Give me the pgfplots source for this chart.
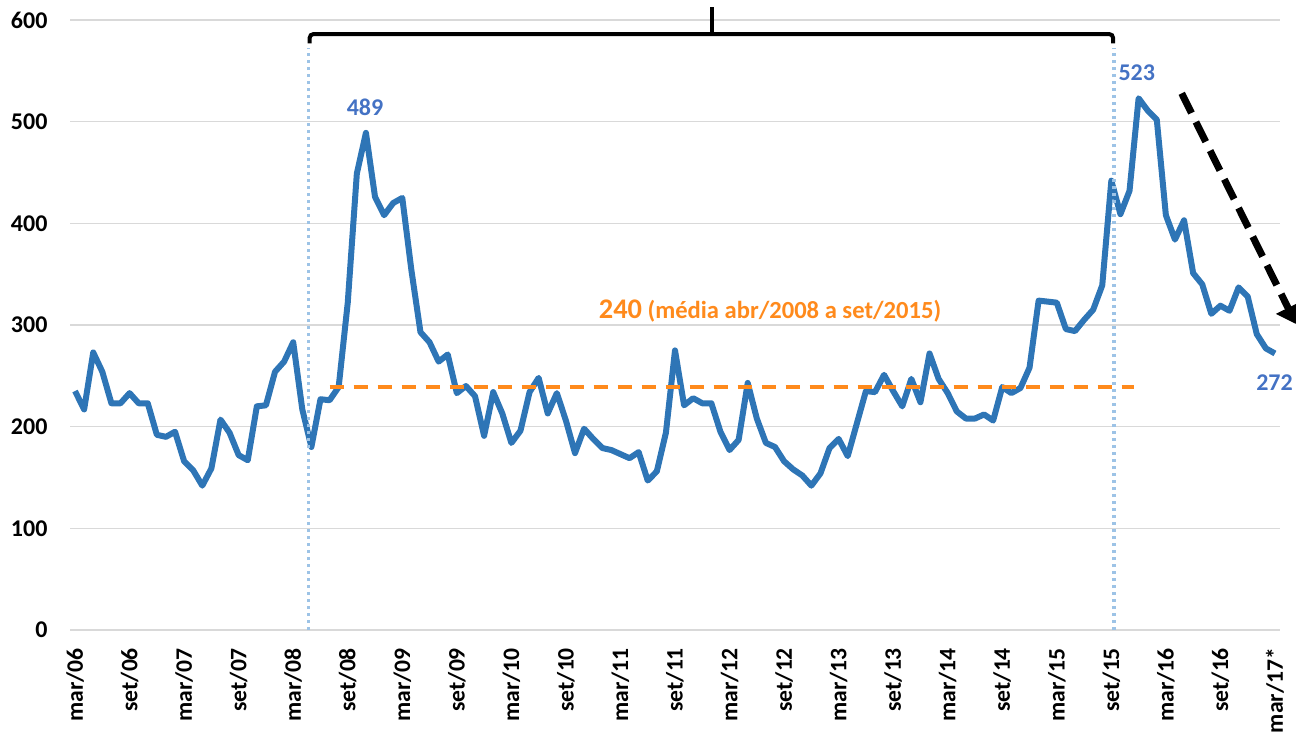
\documentclass[border=0pt]{standalone}
\usepackage{fontspec}
\setmainfont{Carlito}
\usepackage{pgfplots}
\usepackage{pgfplotstable}
\pgfplotsset{compat=1.18}
\usetikzlibrary{arrows.meta}
\definecolor{lineblue}{HTML}{2E75B6}
\definecolor{lblblue}{HTML}{4472C4}
\definecolor{dotblue}{HTML}{9DC3E6}
\definecolor{avgorange}{HTML}{FF8A1C}
\definecolor{gridgray}{HTML}{D9D9D9}
\pgfplotstableread{
x y
0 235
1 217
2 273
3 254
4 223
5 223
6 233
7 223
8 223
9 192
10 190
11 195
12 166
13 157
14 142
15 159
16 207
17 194
18 172
19 167
20 220
21 221
22 254
23 264
24 283
25 217
26 180
27 227
28 226
29 239
30 322
31 449
32 489
33 426
34 408
35 420
36 425
37 354
38 293
39 283
40 264
41 271
42 233
43 240
44 230
45 191
46 234
47 213
48 184
49 196
50 234
51 248
52 213
53 233
54 206
55 174
56 198
57 188
58 179
59 177
60 173
61 169
62 175
63 147
64 156
65 194
66 275
67 221
68 228
69 223
70 223
71 195
72 177
73 187
74 243
75 208
76 184
77 180
78 166
79 158
80 152
81 142
82 154
83 179
84 188
85 171
86 203
87 235
88 234
89 251
90 235
91 220
92 247
93 224
94 272
95 247
96 233
97 215
98 208
99 208
100 212
101 206
102 239
103 233
104 238
105 258
106 324
107 323
108 322
109 296
110 294
111 305
112 315
113 339
114 442
115 409
116 432
117 523
118 511
119 502
120 408
121 384
122 403
123 351
124 340
125 311
126 319
127 314
128 337
129 328
130 291
131 277
132 272
}\serie
\pgfplotstableread{
x y
28 239
116.5 239
}\media
\begin{document}
\begin{tikzpicture}
\begin{axis}[
  scale only axis,
  width=604.5pt, height=305pt,
  xmin=-0.5, xmax=132.5,
  ymin=0, ymax=600,
  clip=false,
  axis line style={draw=none},
  tick style={draw=none},
  ytick={0,100,...,600},
  ymajorgrids,
  grid style={gridgray, line width=0.6pt},
  xtick={0,6,...,132},
  xticklabels={mar/06,set/06,mar/07,set/07,mar/08,set/08,mar/09,set/09,mar/10,set/10,mar/11,set/11,mar/12,set/12,mar/13,set/13,mar/14,set/14,mar/15,set/15,mar/16,set/16,mar/17*},
  xticklabel style={rotate=90, anchor=east, xshift=-5.5pt, font=\bfseries\fontsize{11.8}{14}\selectfont},
  yticklabel style={xshift=-8pt, font=\bfseries\fontsize{12}{14}\selectfont},
  /pgf/number format/assume math mode=true,
]
\addplot[lineblue, line width=3pt, line join=round, mark=none] table[x=x,y=y] {\serie};
\addplot[avgorange, line width=2pt, dash pattern=on 7pt off 5pt, mark=none] table[x=x,y=y] {\media};
% dotted vertical lines
\draw[dotblue, line width=1.6pt, dash pattern=on 1.6pt off 1.9pt] (25.67,0) -- (25.67,572);
\draw[dotblue, line width=1.6pt, dash pattern=on 1.6pt off 1.9pt] (114.3,0) -- (114.3,572);
% brace
\draw[black, line width=2pt, rounded corners=2pt] (25.8,577) -- (25.8,586.2) -- (114.2,586.2) -- (114.2,577);
\draw[black, line width=1.8pt] (70.04,586.2) -- (70.04,612.8);
% labels
\node[text=lblblue, font=\bfseries\fontsize{12}{14}\selectfont] at (31.9,514) {489};
\node[text=lblblue, font=\bfseries\fontsize{12}{14}\selectfont] at (116.8,548) {523};
\node[text=lblblue, font=\bfseries\fontsize{12}{14}\selectfont] at (131.95,243.5) {272};
\node[anchor=base, text=avgorange, font=\bfseries\fontsize{12.3}{14}\selectfont] at (76.45,306) {{\fontsize{14.2}{16}\selectfont 240} (média abr/2008 a set/2015)};
% arrow
\draw[black, line width=3.5pt, dash pattern=on 11pt off 5pt, -{Triangle[length=9pt,width=13pt]}] (121.74,527.9) -- (134.32,301);
\end{axis}
\pgfresetboundingbox
\path[use as bounding box] (-35.25pt,-52.5pt) rectangle (612.75pt,315pt);
\end{tikzpicture}
\end{document}
